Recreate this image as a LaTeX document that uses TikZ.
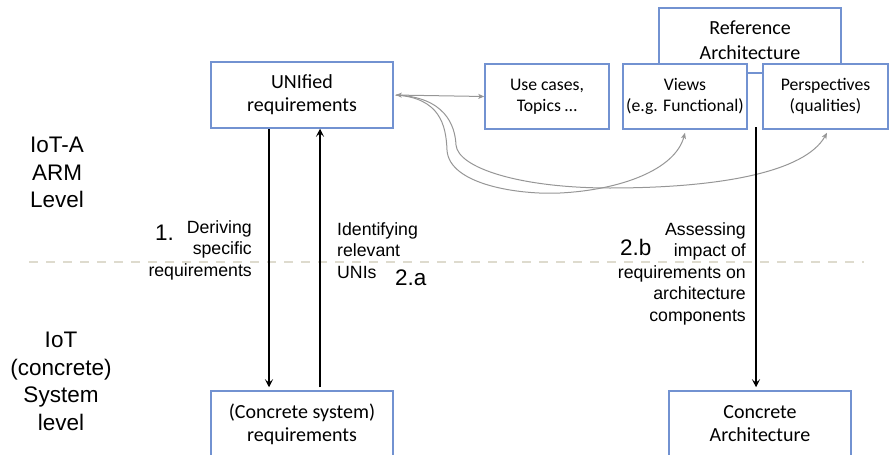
\documentclass[tikz,border=0pt]{standalone}
\usepackage{fontspec}
\setmainfont{Liberation Sans}
\newfontfamily\boxfont{Carlito}
\usetikzlibrary{arrows.meta,calc}
\definecolor{boxblue}{RGB}{114,146,209}
\definecolor{linkgray}{RGB}{150,150,150}
\definecolor{levelline}{RGB}{222,219,206}
\begin{document}
\begin{tikzpicture}[x=1pt,y=-1pt,
  box/.style={draw=boxblue, line width=1.5pt, fill=white, inner sep=0pt, align=center,
    font=\boxfont\fontsize{20}{23}\selectfont},
  smallbox/.style={box, minimum width=124pt, minimum height=65pt,
    font=\boxfont\fontsize{17.7}{21}\selectfont},
  flow/.style={line width=1.2pt, -{Stealth[length=8pt,width=8pt,inset=3.5pt]}},
  link/.style={draw=linkgray, line width=1pt, -{Stealth[length=6pt,width=5pt,inset=1.5pt]}},
  twoway/.style={link, {Stealth[length=6pt,width=5pt,inset=1.5pt]}-{Stealth[length=6pt,width=5pt,inset=1.5pt]}},
  note/.style={inner sep=0pt, font=\fontsize{17.7}{21.5}\selectfont},
  level/.style={inner sep=0pt, align=center, font=\fontsize{22.5}{27.5}\selectfont},
  step num/.style={inner sep=0pt, font=\fontsize{22.5}{27}\selectfont}]
\useasboundingbox (0,0) rectangle (889,455);

% boundary between the two levels
\draw[levelline, line width=1.5pt, dash pattern=on 9pt off 8pt] (29,262) -- (864,262);

% level captions
\node[level, anchor=north] (armlevel) at (57,137) {IoT-A\\ARM\\Level};
\node[level, anchor=north] (syslevel) at (61,332) {IoT\\(concrete)\\System\\level};

% reference architecture and its parts
\node[box, minimum width=182pt, minimum height=65pt] (refarch) at (750,40.5) {Reference\\[2pt]Architecture};
\node[box, minimum width=182pt, minimum height=66pt] (uni) at (302,95) {UNIfied\\requirements};
\node[smallbox] (usecases) at (547,96.5) {Use cases,\\Topics …};
\node[smallbox] (views) at (685,96.5) {Views\\(e.g. Functional)};
\node[smallbox, minimum width=125pt] (persp) at (825.5,96.5) {Perspectives\\(qualities)};

% concrete level
\node[box, minimum width=182pt, minimum height=66pt] (csr) at (302,424) {(Concrete system)\\requirements};
\node[box, minimum width=182pt, minimum height=66pt] (carch) at (760,424) {Concrete\\Architecture};

% links of the unified requirements
\draw[twoway, shorten <=2pt] (uni.east) -- (usecases.west);
\draw[link] ([xshift=2pt]uni.east) .. controls (440,98) and (446,125) .. (447,150)
  .. controls (449,185) and (520,195) .. (560,193)
  .. controls (620,190) and (675,170) .. ([yshift=-3pt]views.south);
\draw[link] ([xshift=2pt]uni.east) .. controls (445,97) and (455,125) .. (456,145)
  .. controls (458,168) and (520,188) .. (610,188)
  .. controls (720,188) and (805,172) .. ([xshift=1.5pt,yshift=-3pt]persp.south);

% process steps
\draw[flow] ([xshift=-33pt]uni.south) -- ([xshift=-33pt,yshift=3pt]csr.north);
\draw[flow] ([xshift=18pt,yshift=3pt]csr.north) -- ([xshift=18pt]uni.south);
\coordinate (assess) at (756,127);
\draw[flow] (assess) -- ([xshift=-4pt,yshift=3pt]carch.north);

% step captions
\node[step num, anchor=base west] (s1) at (155,240) {1.};
\node[note, anchor=north east, align=right] (derive) at (252,220) {Deriving\\specific\\requirements};
\node[note, anchor=north west, align=left] (identify) at (337,222) {Identifying\\relevant\\UNIs};
\node[step num, anchor=base west] (s2a) at (395,285) {2.a};
\node[step num, anchor=base west] (s2b) at (620,255) {2.b};
\node[note, anchor=north east, align=right] (assessing) at (746,222) {Assessing\\impact of\\requirements on\\architecture\\components};
\end{tikzpicture}
\end{document}
